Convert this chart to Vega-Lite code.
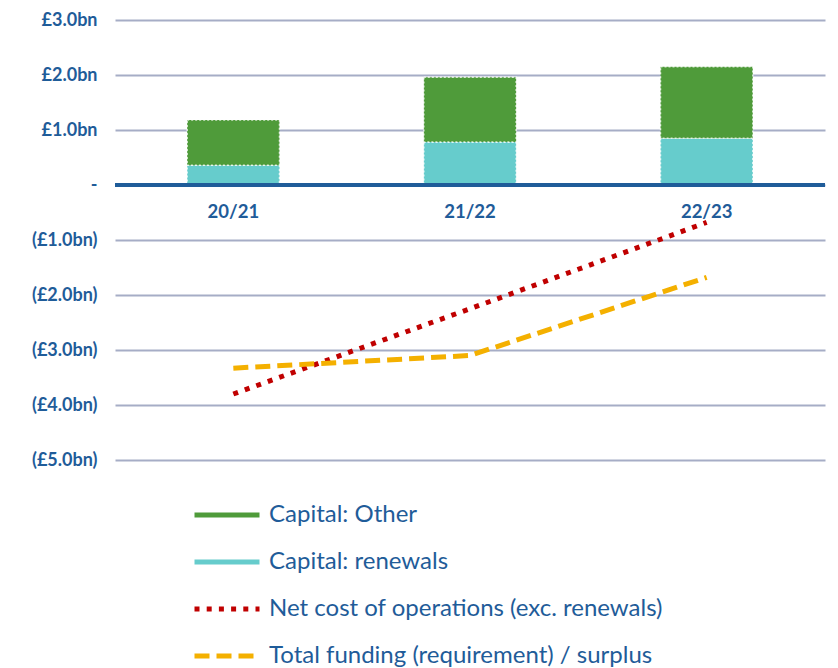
{
  "$schema": "https://vega.github.io/schema/vega-lite/v6.json",
  "width": 710,
  "height": 440,
  "autosize": {"type": "none"},
  "padding": {"left": 115, "top": 20, "right": 13, "bottom": 208},
  "background": "white",
  "config": {"view": {"stroke": null}, "font": "Lato"},
  "datasets": {
    "bars": [
      {"year": "20/21", "series": "Capital: renewals", "value": 0.36},
      {"year": "20/21", "series": "Capital: Other", "value": 0.82},
      {"year": "21/22", "series": "Capital: renewals", "value": 0.78},
      {"year": "21/22", "series": "Capital: Other", "value": 1.18},
      {"year": "22/23", "series": "Capital: renewals", "value": 0.85},
      {"year": "22/23", "series": "Capital: Other", "value": 1.30}
    ],
    "lines": [
      {"year": "20/21", "series": "Net cost of operations (exc. renewals)", "value": -3.8},
      {"year": "21/22", "series": "Net cost of operations (exc. renewals)", "value": -2.25},
      {"year": "22/23", "series": "Net cost of operations (exc. renewals)", "value": -0.68},
      {"year": "20/21", "series": "Total funding (requirement) / surplus", "value": -3.33},
      {"year": "21/22", "series": "Total funding (requirement) / surplus", "value": -3.1},
      {"year": "22/23", "series": "Total funding (requirement) / surplus", "value": -1.68}
    ],
    "zero": [{"y": 0}]
  },
  "layer": [
    {
      "data": {"name": "bars"},
      "mark": {"type": "bar", "stroke": "white", "strokeOpacity": 0.75, "strokeWidth": 1.5, "strokeDash": [2, 2]},
      "encoding": {
        "x": {
          "field": "year", "type": "nominal",
          "scale": {"paddingInner": 0.61, "paddingOuter": 0.305},
          "axis": {
            "orient": "bottom", "offset": -275, "domain": false, "ticks": false,
            "labelPadding": 17, "labelFontSize": 18.5, "labelFontWeight": "bold",
            "labelColor": "#1f5c99", "labelAngle": 0, "title": null
          }
        },
        "y": {
          "field": "value", "type": "quantitative", "stack": "zero",
          "scale": {"domain": [-5, 3], "nice": false},
          "axis": {
            "values": [-5, -4, -3, -2, -1, 0, 1, 2, 3],
            "grid": true, "gridColor": "#a6adc6", "gridWidth": 2,
            "domain": false, "ticks": false, "title": null,
            "labelExpr": "datum.value > 0 ? '£' + format(datum.value, '.1f') + 'bn' : (datum.value < 0 ? '(£' + format(-datum.value, '.1f') + 'bn)' : '-')",
            "labelFontWeight": "bold", "labelFontSize": 18, "labelColor": "#1f5c99", "labelPadding": 18
          }
        },
        "order": {"field": "series", "sort": "descending"},
        "color": {
          "field": "series", "type": "nominal",
          "scale": {
            "domain": ["Capital: Other", "Capital: renewals", "Net cost of operations (exc. renewals)", "Total funding (requirement) / surplus"],
            "range": ["#4f9b3a", "#66cccc", "#c00000", "#f4b000"]
          },
          "legend": {
            "orient": "none", "legendX": 77, "legendY": 460, "title": null,
            "symbolType": "stroke", "symbolSize": 4225, "symbolStrokeWidth": 5,
            "labelFontSize": 24, "labelColor": "#1f5c99", "labelOffset": 7,
            "rowPadding": -1.5, "labelLimit": 600,
            "encode": {
              "symbols": {
                "update": {
                  "stroke": {"scale": "color", "field": "value"},
                  "fill": {"value": "transparent"},
                  "opacity": {"value": 1},
                  "strokeWidth": {"signal": "indexof(['Capital: Other', 'Capital: renewals'], datum.value) >= 0 ? 14 : 5"},
                  "strokeDash": {"scale": "strokeDash", "field": "value"}
                }
              }
            }
          }
        }
      }
    },
    {
      "data": {"name": "zero"},
      "mark": {"type": "rule", "color": "#1f5c99", "strokeWidth": 4},
      "encoding": {"y": {"field": "y", "type": "quantitative"}}
    },
    {
      "data": {"name": "lines"},
      "mark": {"type": "line", "strokeWidth": 5, "strokeCap": "butt"},
      "encoding": {
        "x": {"field": "year", "type": "nominal"},
        "y": {"field": "value", "type": "quantitative"},
        "color": {"field": "series", "type": "nominal"},
        "strokeDash": {
          "field": "series", "type": "nominal",
          "scale": {
            "domain": ["Capital: Other", "Capital: renewals", "Net cost of operations (exc. renewals)", "Total funding (requirement) / surplus"],
            "range": [[1, 0], [1, 0], [5, 7.2], [15, 7]]
          },
          "legend": null
        }
      }
    }
  ]
}
